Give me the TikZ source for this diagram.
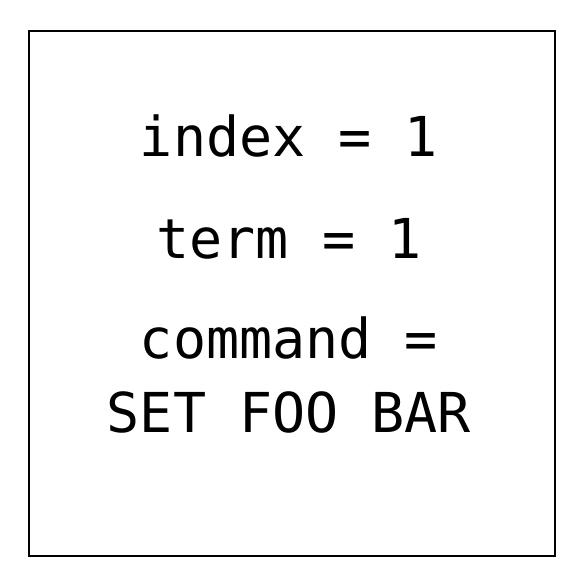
\documentclass[tikz,border=0pt]{standalone}
\usepackage{fontspec}
\setmonofont{DejaVu Sans Mono}
\usetikzlibrary{positioning}
\tikzstyle{entry} = [anchor=base, inner sep=0pt, align=center, font=\ttfamily\fontsize{55}{74}\selectfont]
\tikzstyle{rule} = [rectangle, draw=black, line width=1.5pt, minimum width=526pt, minimum height=525pt]

\begin{document}
\begin{tikzpicture}
  \useasboundingbox (0,0) rectangle (584pt,-583pt);
  \node (frame) [rule] at (292pt, -293.5pt) {};
  \node (index) [entry] at (289pt, -157pt) {index = 1};
  \node (term) [entry] at (289pt, -258pt) {term = 1};
  \node (command) [entry, anchor=north] at (289pt, -317pt) {command =\\SET FOO BAR};
\end{tikzpicture}
\end{document}
